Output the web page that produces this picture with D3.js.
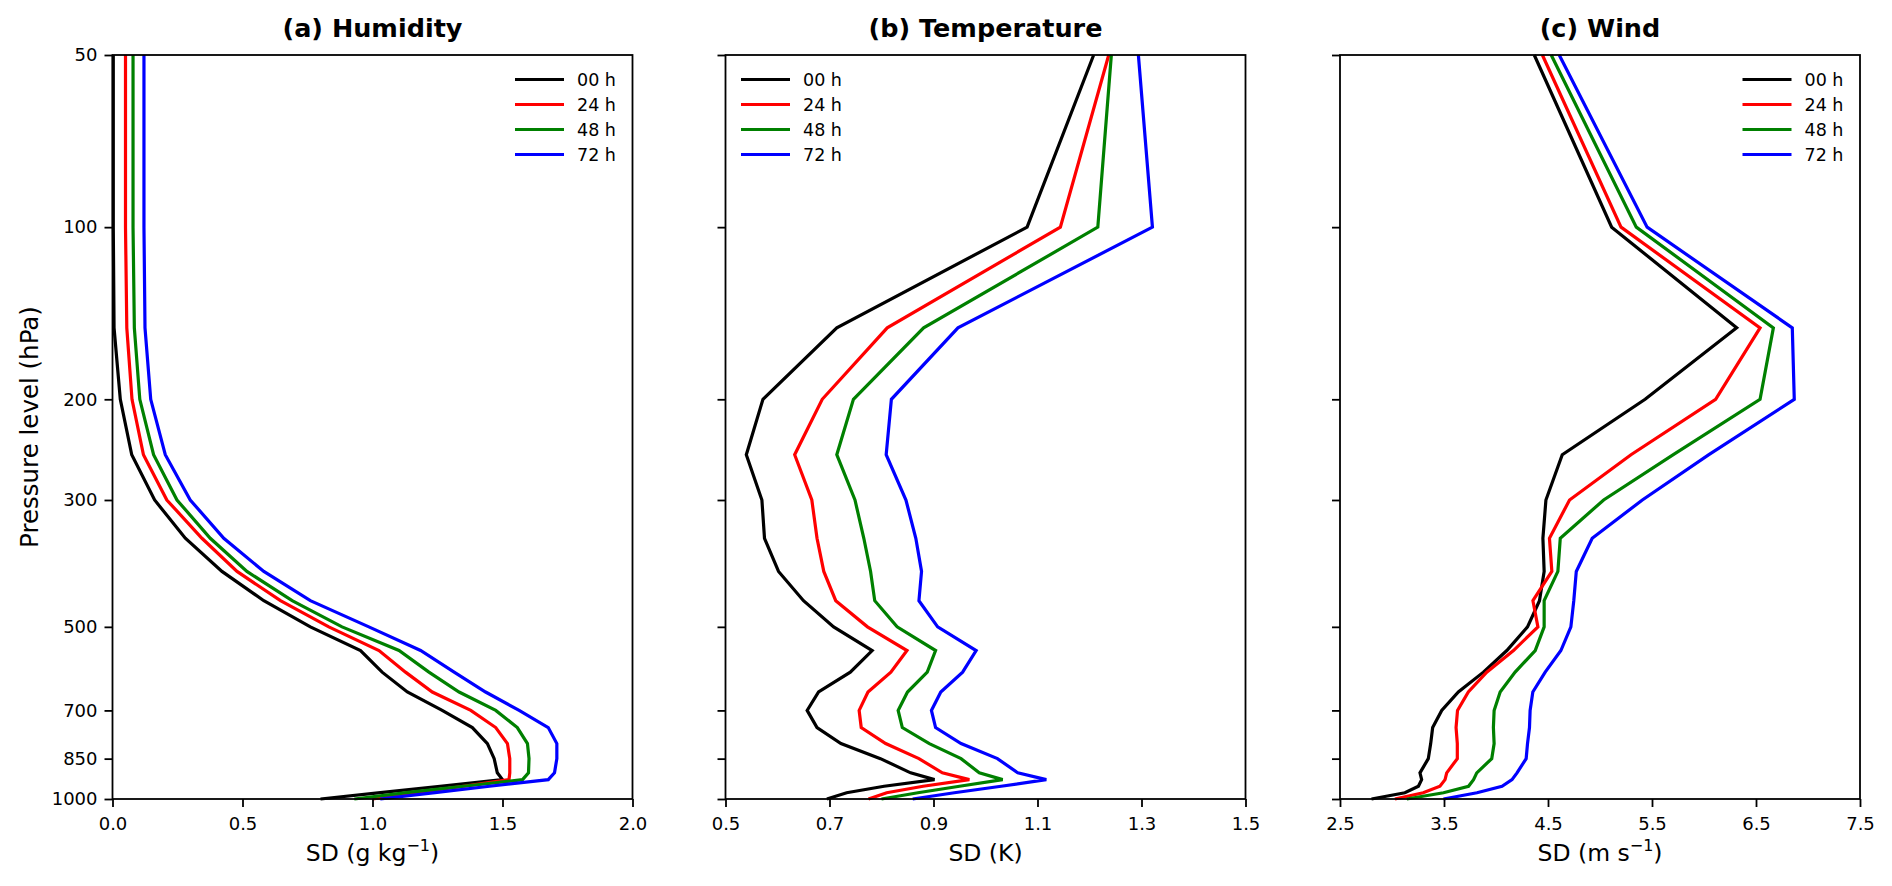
<!DOCTYPE html>
<html>
<head>
<meta charset="utf-8">
<script src="https://cdn.jsdelivr.net/npm/d3@7"></script>
<style>
  html, body { margin: 0; padding: 0; background: #fff; }
  svg { display: block; font-family: "DejaVu Sans", sans-serif; }
</style>
</head>
<body>
<svg id="chart" width="1892" height="886"></svg>
<script>
// ---------------- DATA ----------------
const levels = [50,100,150,200,250,300,350,400,450,500,550,600,650,700,750,800,850,900,925,950,975,1000];
const seriesNames = ["00 h","24 h","48 h","72 h"];
const seriesColors = ["#000000","#ff0000","#008000","#0000ff"];

const hum00 = [0.003,0.003,0.006,0.030,0.074,0.162,0.280,0.421,0.582,0.761,0.954,1.037,1.134,1.268,1.384,1.442,1.468,1.480,1.500,1.26,1.03,0.80];
const hum24 = [0.050,0.050,0.055,0.075,0.119,0.209,0.344,0.479,0.646,0.832,1.025,1.127,1.230,1.378,1.474,1.519,1.528,1.528,1.525,1.35,1.17,1.00];
const hum48 = [0.079,0.079,0.084,0.105,0.158,0.248,0.376,0.517,0.691,0.883,1.102,1.217,1.333,1.474,1.557,1.596,1.602,1.600,1.577,1.35,1.13,0.93];
const hum72 = [0.121,0.121,0.125,0.147,0.203,0.299,0.428,0.582,0.761,0.986,1.185,1.314,1.435,1.564,1.676,1.709,1.709,1.700,1.676,1.45,1.24,1.03];

const tem00 = [1.208,1.080,0.714,0.572,0.540,0.570,0.575,0.602,0.650,0.708,0.782,0.740,0.679,0.657,0.676,0.722,0.798,0.856,0.902,0.805,0.733,0.695];
const tem24 = [1.237,1.144,0.811,0.686,0.633,0.666,0.676,0.689,0.712,0.773,0.849,0.818,0.774,0.757,0.761,0.808,0.872,0.917,0.969,0.88,0.81,0.775];
const tem48 = [1.242,1.216,0.881,0.746,0.714,0.749,0.766,0.779,0.787,0.830,0.904,0.888,0.850,0.832,0.840,0.892,0.953,0.988,1.033,0.95,0.87,0.80];
const tem72 = [1.294,1.321,0.947,0.819,0.809,0.847,0.866,0.877,0.872,0.908,0.982,0.956,0.914,0.896,0.904,0.953,1.023,1.062,1.117,1.03,0.94,0.86];

const win00 = [4.368,5.112,6.314,5.434,4.637,4.480,4.451,4.463,4.418,4.303,4.104,3.879,3.638,3.478,3.391,3.372,3.349,3.269,3.285,3.254,3.124,2.803];
const win24 = [4.446,5.202,6.539,6.112,5.298,4.707,4.514,4.537,4.355,4.403,4.168,3.911,3.734,3.630,3.616,3.628,3.628,3.526,3.510,3.461,3.300,3.028];
const win48 = [4.531,5.349,6.667,6.539,5.705,5.035,4.618,4.595,4.463,4.463,4.377,4.184,4.040,3.982,3.975,3.982,3.959,3.815,3.784,3.736,3.495,3.142];
const win72 = [4.608,5.453,6.849,6.868,6.047,5.407,4.925,4.772,4.748,4.720,4.624,4.473,4.354,4.328,4.322,4.303,4.290,4.202,4.154,4.058,3.817,3.495];

const yTicks = [50,100,200,300,500,700,850,1000];
const xTicksHum = [0.0,0.5,1.0,1.5,2.0];
const xTicksTem = [0.5,0.7,0.9,1.1,1.3,1.5];
const xTicksWin = [2.5,3.5,4.5,5.5,6.5,7.5];

const titles = ["(a) Humidity","(b) Temperature","(c) Wind"];
const yLabel = "Pressure level (hPa)";

// ---------------- LAYOUT ----------------
const svg = d3.select("#chart");
const plotTop = 55, plotBottom = 799;
const panels = [
  {x0:112.5, x1:632.5, domain:[0,2], ticks:xTicksHum, series:[hum00,hum24,hum48,hum72], title:titles[0], unit:"g kg", sup:"\u22121", legend:"right", yLabels:true},
  {x0:725.5, x1:1245.5, domain:[0.5,1.5], ticks:xTicksTem, series:[tem00,tem24,tem48,tem72], title:titles[1], unit:"K", sup:null, legend:"left", yLabels:false},
  {x0:1340, x1:1860, domain:[2.5,7.5], ticks:xTicksWin, series:[win00,win24,win48,win72], title:titles[2], unit:"m s", sup:"\u22121", legend:"right", yLabels:false}
];

const y = d3.scaleLog().domain([50,1000]).range([plotTop,plotBottom]);

panels.forEach(p => {
  const x = d3.scaleLinear().domain(p.domain).range([p.x0,p.x1]);
  const g = svg.append("g");

  // lines
  const line = d3.line().x(d => x(d[0])).y(d => y(d[1]));
  p.series.forEach((vals, i) => {
    g.append("path")
      .datum(vals.map((v, k) => [v, levels[k]]))
      .attr("fill","none")
      .attr("stroke", seriesColors[i])
      .attr("stroke-width", 3.2)
      .attr("stroke-linejoin","miter")
      .attr("d", line);
  });

  // frame
  g.append("rect")
    .attr("x", p.x0).attr("y", plotTop)
    .attr("width", p.x1 - p.x0).attr("height", plotBottom - plotTop)
    .attr("fill","none").attr("stroke","#000").attr("stroke-width",1.8);

  // y axis
  const yAxis = d3.axisLeft(y).tickValues(yTicks).tickSize(8).tickPadding(7)
    .tickFormat(p.yLabels ? d3.format("d") : () => "");
  const ya = g.append("g").attr("transform", `translate(${p.x0},0)`).call(yAxis);
  ya.select(".domain").remove();
  ya.selectAll(".tick line").attr("stroke","#000").attr("stroke-width",1.8);
  ya.selectAll(".tick text").attr("font-size","18px").attr("fill","#000")
    .attr("font-family","DejaVu Sans");

  // x axis
  const xAxis = d3.axisBottom(x).tickValues(p.ticks).tickSize(8).tickPadding(10)
    .tickFormat(d3.format(".1f"));
  const xa = g.append("g").attr("transform", `translate(0,${plotBottom})`).call(xAxis);
  xa.select(".domain").remove();
  xa.selectAll(".tick line").attr("stroke","#000").attr("stroke-width",1.8);
  xa.selectAll(".tick text").attr("font-size","18px").attr("fill","#000")
    .attr("font-family","DejaVu Sans");

  // title
  g.append("text")
    .attr("x", (p.x0 + p.x1) / 2).attr("y", 37)
    .attr("text-anchor","middle")
    .attr("font-size","25.5px").attr("font-weight","bold")
    .text(p.title);

  // x label
  const xl = g.append("text")
    .attr("x", (p.x0 + p.x1) / 2).attr("y", 861)
    .attr("text-anchor","middle")
    .attr("font-size","23.5px");
  xl.append("tspan").text("SD (" + p.unit);
  if (p.sup) {
    xl.append("tspan").attr("font-size","16px").attr("dy","-10").text(p.sup);
    xl.append("tspan").attr("dy","10").text(")");
  } else {
    xl.append("tspan").text(")");
  }

  // legend
  const lx0 = p.legend === "right" ? p.x1 - 117.5 : p.x0 + 15.5;
  seriesNames.forEach((name, i) => {
    const ly = 79.5 + i * 25;
    g.append("line")
      .attr("x1", lx0).attr("x2", lx0 + 49)
      .attr("y1", ly).attr("y2", ly)
      .attr("stroke", seriesColors[i]).attr("stroke-width", 3.2);
    g.append("text")
      .attr("x", lx0 + 62).attr("y", ly + 6.3)
      .attr("font-size","17.5px")
      .text(name);
  });
});

// y label
svg.append("text")
  .attr("transform", `translate(38,${(plotTop + plotBottom) / 2}) rotate(-90)`)
  .attr("text-anchor","middle")
  .attr("font-size","24.5px")
  .text(yLabel);
</script>
</body>
</html>
